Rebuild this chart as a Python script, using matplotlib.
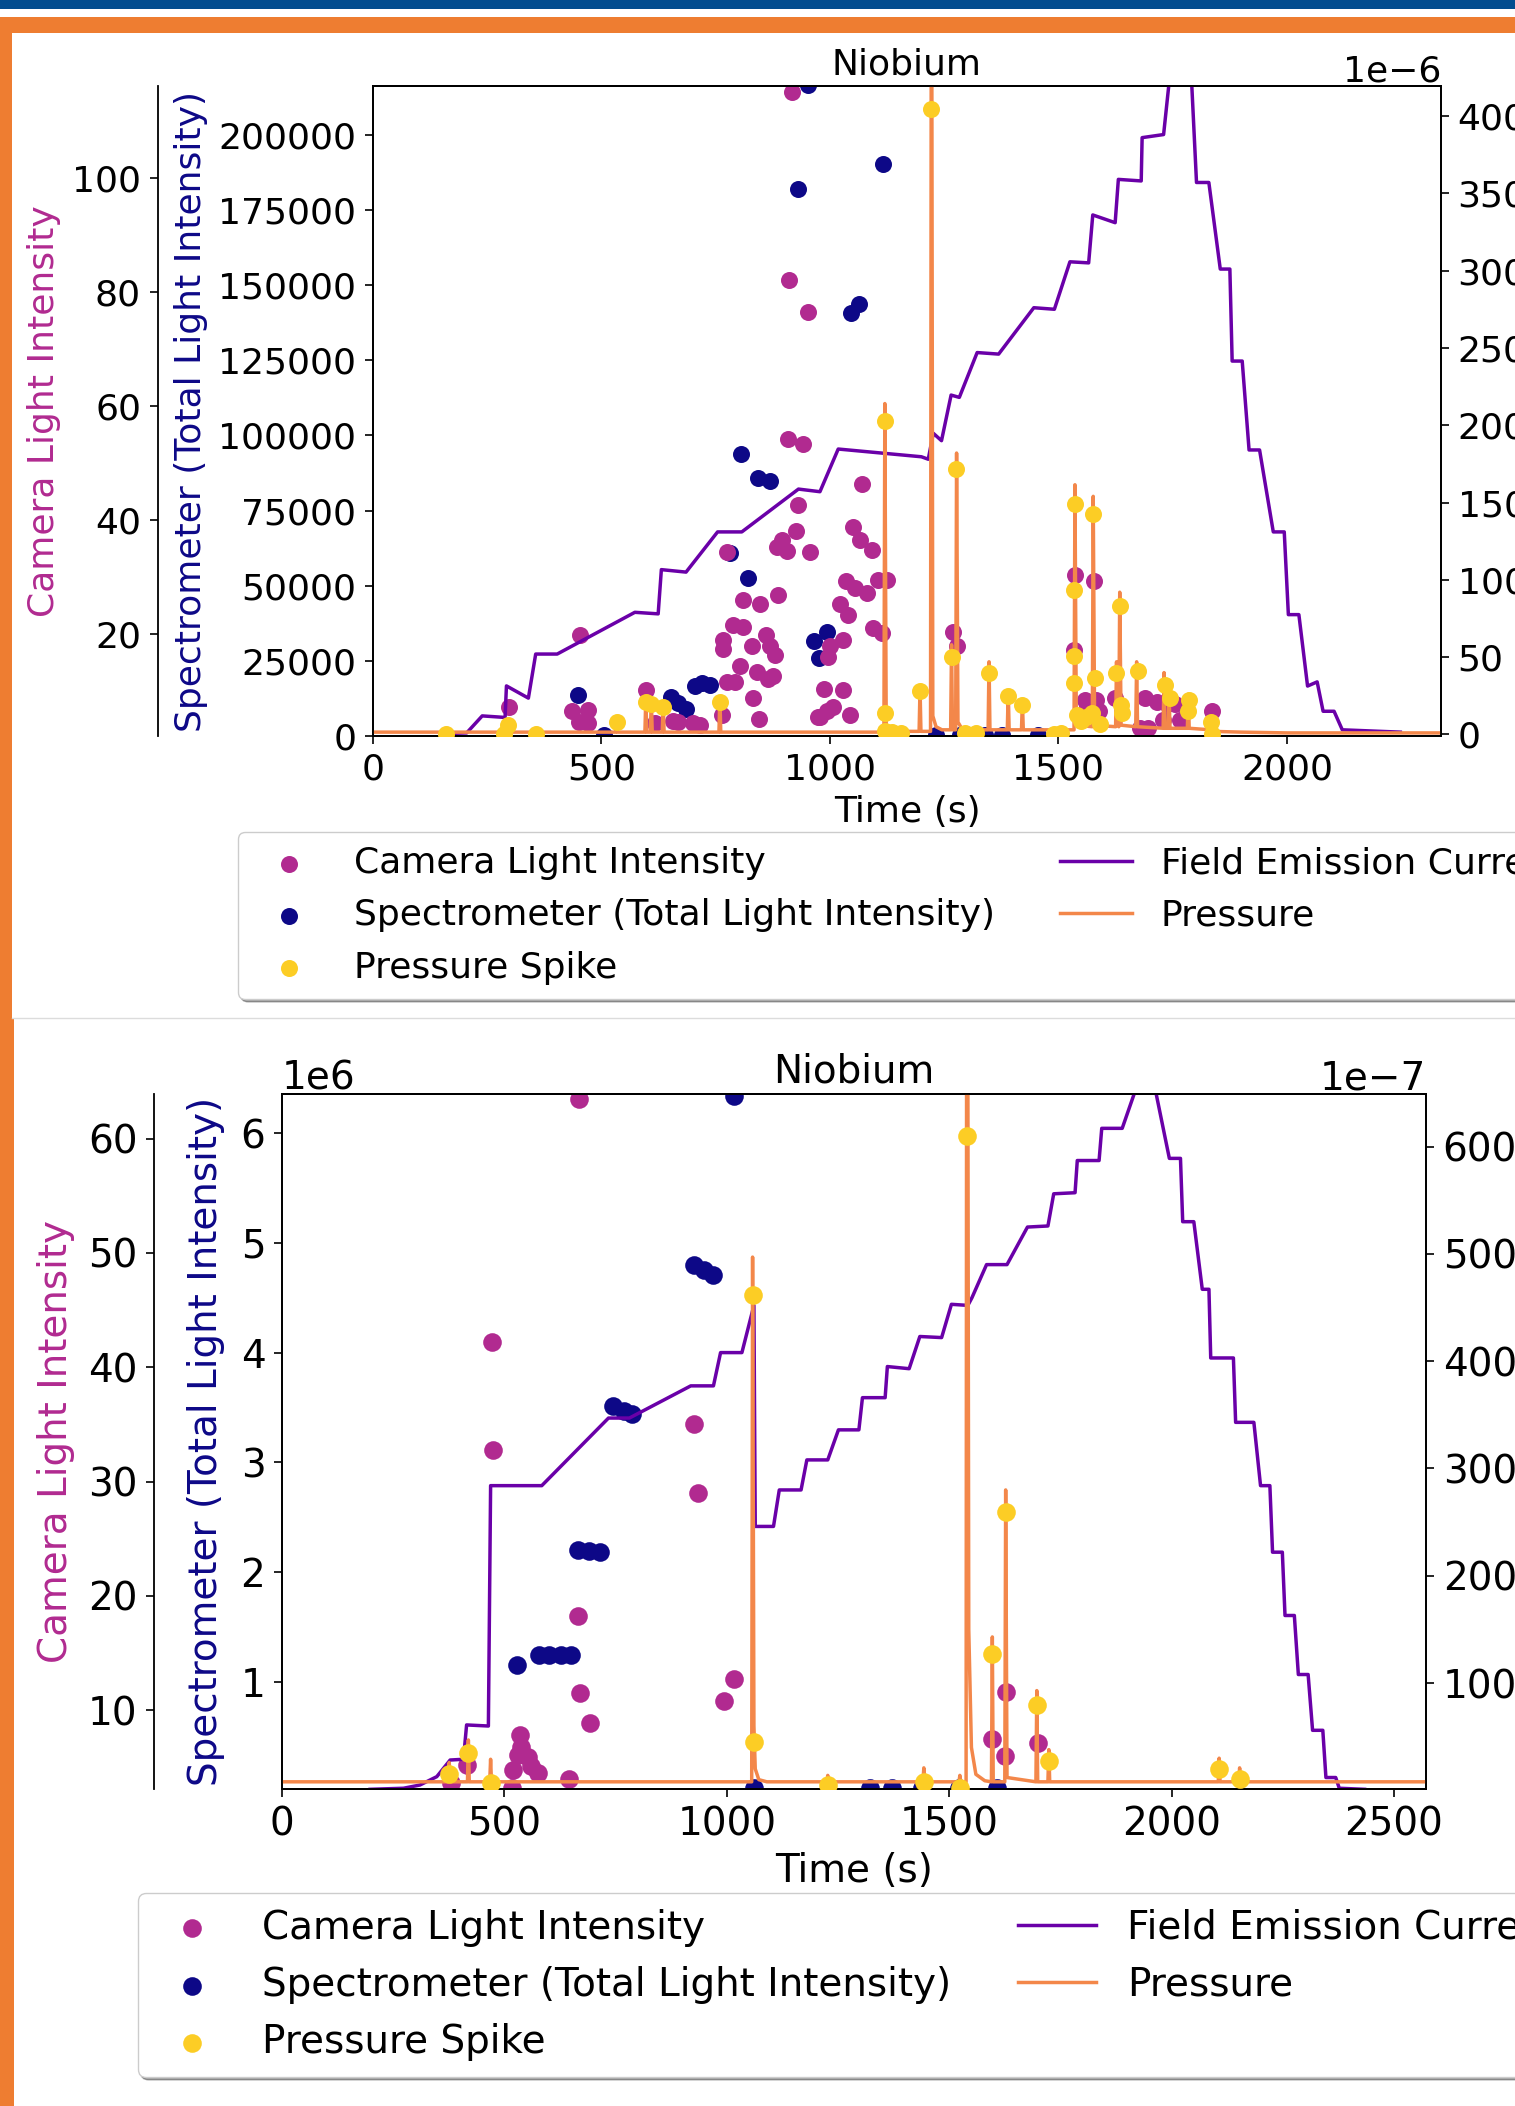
import numpy as np
import matplotlib
matplotlib.use('Agg')
from matplotlib import pyplot as plt
from matplotlib.patches import Rectangle
from matplotlib.lines import Line2D
from matplotlib.ticker import MultipleLocator

# ---------------- top run ----------------
# camera light intensity (t [s], intensity)
top_camera = [(297, 7.1), (435, 6.4), (453, 19.8), (471, 6.7), (451, 4.5), (470, 4.4), (597, 10.2),
              (617, 4.4), (657, 4.8), (668, 4.5), (700, 4.4), (715, 4.0), (763, 5.8), (765, 19.0),
              (765, 17.4), (774, 34.3), (774, 11.5), (788, 21.6), (792, 11.5), (803, 14.3), (809, 26.0),
              (809, 21.3), (829, 17.8), (832, 8.8), (840, 13.4), (845, 5.0), (847, 25.3), (861, 19.8),
              (865, 12.1), (869, 17.8), (876, 12.6), (880, 16.3), (885, 35.3), (887, 26.8), (894, 36.5),
              (905, 34.5), (909, 54.2), (911, 82), (916, 115), (926, 38.1), (929, 42.7), (942, 53.3),
              (951, 76.4), (956, 34.3), (974, 5.5), (978, 5.4), (986, 10.3), (993, 6.4), (995, 16.0),
              (1000, 17.9), (1007, 7.2), (1022, 25.3), (1029, 10.2), (1029, 19.0), (1036, 29.2),
              (1040, 23.3), (1044, 5.8), (1050, 38.7), (1055, 28.0), (1066, 36.5), (1069, 46.3),
              (1080, 27.2), (1091, 34.7), (1094, 21.0), (1106, 29.5), (1113, 20.2), (1125, 29.5),
              (1269, 20.4), (1278, 17.8), (1534, 17.2), (1536, 30.3), (1558, 8.4), (1560, 6.7),
              (1578, 29.2), (1583, 8.4), (1588, 6.4), (1624, 8.8), (1678, 3.5), (1689, 8.8), (1696, 3.5),
              (1715, 8.1), (1729, 4.9), (1737, 7.8), (1755, 7.8), (1766, 4.9), (1835, 6.4)]
# spectrometer total light intensity
top_spectro = [(449, 13500), (505, 300), (652, 13000), (667, 11000), (686, 9000), (705, 16600),
               (720, 17600), (737, 17000), (781, 61000), (805, 93700), (821, 52600), (843, 86000),
               (868, 85000), (931, 182000), (951, 216500), (964, 31700), (977, 25900), (993, 34600),
               (1047, 140900), (1064, 143600), (1115, 190400), (1233, 300), (1284, 300), (1339, 300),
               (1376, 300), (1456, 300)]
# detected pressure spikes (x1e-6)
top_spikes = [(160, 0.3), (286, 0.3), (295, 6.3), (357, 0.3), (533, 8), (597, 21), (609, 20), (635, 17.7),
              (759, 21), (1120, 203), (1120, 13.8), (1120, 2.5), (1135, 1.5), (1155, 1), (1197, 28),
              (1222, 404.5), (1266, 50), (1276, 171.6), (1296, 1), (1320, 1), (1347, 40), (1390, 24.8),
              (1421, 19), (1490, 0.5), (1505, 0.8), (1534, 93.4), (1534, 51), (1534, 33), (1536, 149),
              (1540, 12.5), (1550, 9), (1560, 11), (1573, 14), (1575, 142.6), (1580, 36.5), (1590, 6.7),
              (1626, 39.8), (1635, 83), (1636, 19), (1640, 14), (1674, 41), (1732, 32.3), (1743, 23.5),
              (1784, 15), (1786, 22), (1833, 8), (1835, 0.5)]
# field emission current (x1e-6)
top_fe = [(150, 0.5), (205, 1), (239, 12), (289, 11), (292, 31.4), (340, 23.5), (356, 52), (403, 52),
          (573, 79), (624, 78), (631, 106.6), (685, 105), (754, 131), (807, 131), (931, 158.7), (978, 157),
          (1018, 184.6), (1200, 179.6), (1215, 178), (1226, 194.8), (1244, 190), (1265, 219.5), (1283, 218),
          (1322, 247), (1369, 246), (1446, 276), (1491, 275), (1525, 305.7), (1566, 305), (1575, 336),
          (1624, 331), (1631, 359), (1681, 358), (1683, 386), (1730, 388), (1745, 430), (1790, 430),
          (1802, 357), (1829, 357), (1854, 301), (1875, 301), (1880, 241.5), (1902, 241.5), (1917, 184),
          (1940, 184), (1970, 131), (1994, 131), (2003, 77.5), (2026, 77.5), (2045, 31.3), (2066, 34),
          (2079, 15), (2103, 15), (2121, 3), (2248, 1.5)]
# pressure trace (x1e-6)
top_pressure = [(0, 1.5), (293, 1.5), (295, 8), (297, 1.5), (531, 1.5), (533, 9), (535, 1.5), (595, 1.5),
                (597, 24), (599, 1.5), (607, 1.5), (609, 23), (611, 1.5), (633, 1.5), (635, 20), (637, 1.5),
                (757, 1.5), (759, 24), (761, 1.5), (1118, 1.5), (1120, 214), (1123, 6), (1135, 2),
                (1195, 2), (1197, 30), (1199, 2), (1220, 2), (1222, 600), (1225, 12), (1232, 5), (1245, 3),
                (1264, 3), (1266, 58), (1268, 3), (1275, 3), (1277, 182), (1280, 8), (1290, 3), (1346, 3),
                (1348, 47), (1350, 3), (1388, 3), (1390, 28), (1392, 3), (1419, 3), (1421, 21), (1423, 3),
                (1534, 3), (1536, 161.5), (1539, 6), (1574, 5), (1576, 154), (1579, 6), (1625, 5),
                (1627, 47), (1629, 6), (1632, 5), (1634, 92), (1637, 6), (1669, 5), (1671, 47), (1673, 5),
                (1729, 4), (1731, 40), (1733, 4), (1740, 4), (1742, 26), (1744, 4), (1782, 4), (1784, 26),
                (1786, 4), (1833, 3), (1835, 10), (1837, 2), (1900, 1.5), (2000, 1), (2337, 1)]

# ---------------- bottom run ----------------
bot_camera = [(379, 3.6), (415, 5.2), (472, 42.2), (474, 32.8), (518, 3.2), (519, 4.8), (530, 6.1),
              (534, 7.8), (538, 6.8), (553, 5.9), (560, 5.1), (576, 4.5), (646, 4.0), (665, 18.2),
              (668, 63.5), (669, 11.5), (693, 8.9), (926, 35.0), (935, 29.0), (994, 10.8), (1016, 12.7),
              (1597, 7.5), (1625, 6.0), (1628, 11.6), (1699, 7.1)]
# spectrometer (x1e6)
bot_spectro = [(528, 1.149), (578, 1.24), (601, 1.24), (628, 1.24), (650, 1.24), (665, 2.20), (690, 2.19),
               (714, 2.18), (745, 3.51), (768, 3.47), (786, 3.44), (926, 4.80), (949, 4.75), (970, 4.71),
               (1017, 6.34), (1062, 0.03), (1322, 0.03), (1371, 0.03), (1439, 0.03), (1522, 0.03),
               (1608, 0.03)]
# pressure spikes (x1e-7)
bot_spikes = [(376, 15.3), (419, 35), (469, 6.6), (1058, 462), (1062, 45), (1227, 4.8), (1443, 8),
              (1524, 2), (1540, 609.6), (1597, 127), (1627, 259), (1697, 79.6), (1724, 27.6), (2107, 20),
              (2153, 11)]
# field emission current (x1e-7)
bot_fe = [(198, 1), (273, 2), (310, 5), (348, 12.8), (378, 28.3), (408, 29), (415, 61), (464, 60),
          (469, 284), (584, 284), (734, 347), (781, 347), (919, 377), (970, 377), (986, 408), (1034, 408),
          (1061, 452), (1064, 246), (1105, 246), (1118, 280), (1167, 280), (1180, 308), (1227, 308),
          (1251, 336), (1297, 336), (1305, 366), (1356, 366), (1361, 395), (1410, 393), (1434, 423),
          (1483, 422), (1505, 453), (1542, 452), (1551, 459), (1584, 490), (1630, 490), (1676, 525),
          (1722, 526), (1735, 556), (1783, 557), (1788, 587), (1837, 587), (1843, 617), (1889, 617),
          (1925, 660), (1960, 660), (1995, 589), (2020, 589), (2025, 530), (2050, 530), (2069, 467),
          (2084, 467), (2088, 403), (2139, 403), (2144, 343), (2185, 343), (2200, 284), (2221, 284),
          (2227, 222), (2249, 222), (2255, 163), (2276, 163), (2285, 108), (2307, 108), (2317, 56),
          (2340, 56), (2347, 12), (2369, 12), (2377, 2), (2434, 1)]
# pressure trace (x1e-7)
bot_pressure = [(0, 8), (374, 8), (376, 26), (378, 8), (417, 8), (419, 47), (421, 8), (467, 8), (469, 29),
                (471, 8), (1056, 8), (1058, 497), (1061, 60), (1064, 20), (1072, 10), (1090, 8), (1225, 8),
                (1227, 14), (1229, 8), (1441, 8), (1443, 21), (1445, 8), (1522, 8), (1524, 14), (1526, 8),
                (1538, 8), (1540, 1200), (1544, 150), (1550, 40), (1560, 15), (1580, 9), (1595, 8),
                (1597, 143), (1599, 8), (1625, 8), (1627, 280), (1630, 12), (1695, 8), (1697, 93),
                (1699, 8), (1722, 8), (1724, 38), (1726, 8), (2105, 8), (2107, 30), (2109, 8), (2151, 8),
                (2153, 21), (2155, 8), (2572, 8)]

labels = ['Camera Light Intensity', 'Spectrometer (Total Light Intensity)', 'Pressure Spike',
          'Field Emission Current', 'Pressure']
c_cam, c_spec, c_spike, c_fe, c_p = '#b12a90', '#0d0887', '#fccd25', '#6a00a8', '#f3874a'

W, H = 1515.0, 2106.0
fig = plt.figure(figsize=(15.15, 21.06), dpi=100)


def fr(x0, y0, x1, y1):
    # pixel box, origin top-left -> figure fraction rect
    return [x0 / W, 1 - y1 / H, (x1 - x0) / W, (y1 - y0) / H]


def panel(box, fs, s, cam_out, cam_lx, spec_lx, leg_xy, colsp, xlim, cam_lim, spec_lim, spec_scale,
          spec_step, cam_step, r_lim, r_exp, r_step, camera, spectro, spikes, fe, pressure):
    ax = fig.add_axes(fr(*box))
    axc = ax.twinx()
    axr = ax.twinx()

    t, v = np.array(spectro).T
    h_spec = ax.scatter(t, v * spec_scale, s=s, color=c_spec, linewidths=0)
    t, v = np.array(camera).T
    h_cam = axc.scatter(t, v, s=s, color=c_cam, linewidths=0)
    t, v = np.array(fe).T
    h_fe, = axr.plot(t, v * 10.0 ** r_exp, color=c_fe, lw=2.5)
    t, v = np.array(pressure).T
    h_p, = axr.plot(t, v * 10.0 ** r_exp, color=c_p, lw=2.5)
    t, v = np.array(spikes).T
    h_spk = axr.scatter(t, v * 10.0 ** r_exp, s=s, color=c_spike, linewidths=0, zorder=3)

    ax.set_xlim(*xlim)
    ax.set_ylim(spec_lim[0] * spec_scale, spec_lim[1] * spec_scale)
    axc.set_ylim(*cam_lim)
    axr.set_ylim(r_lim[0] * 10.0 ** r_exp, r_lim[1] * 10.0 ** r_exp)
    ax.xaxis.set_major_locator(MultipleLocator(500))
    ax.yaxis.set_major_locator(MultipleLocator(spec_step * spec_scale))
    axc.yaxis.set_major_locator(MultipleLocator(cam_step))
    axr.yaxis.set_major_locator(MultipleLocator(r_step * 10.0 ** r_exp))
    axr.ticklabel_format(axis='y', style='sci', scilimits=(r_exp, r_exp))

    # camera axis on an outward left spine
    axc.yaxis.tick_left()
    axc.yaxis.set_label_position('left')
    axc.spines['left'].set_position(('outward', cam_out))
    axc.spines['left'].set_visible(True)
    axc.spines['right'].set_visible(False)

    for a in (ax, axc, axr):
        for sp in a.spines.values():
            sp.set_linewidth(1.3)
        a.tick_params(labelsize=fs, length=6, width=1.2, pad=6)
        a.yaxis.get_offset_text().set_fontsize(fs)

    ax.set_title('Niobium', fontsize=fs, pad=8)
    ax.set_xlabel('Time (s)', fontsize=fs, labelpad=6)
    ax.set_ylabel('Spectrometer (Total Light Intensity)', fontsize=fs, color=c_spec)
    axc.set_ylabel('Camera Light Intensity', fontsize=fs, color=c_cam)
    ax.yaxis.set_label_coords(spec_lx, 0.5)
    axc.yaxis.set_label_coords(cam_lx, 0.5)

    fig.legend([h_cam, h_spec, h_spk, h_fe, h_p], labels, loc='upper left', bbox_to_anchor=leg_xy,
               ncol=2, fontsize=fs, shadow=True, borderaxespad=0, handlelength=2.0,
               columnspacing=colsp)


# page decoration of the screenshot
fig.add_artist(Rectangle((0, 1 - 9 / H), 1, 9 / H, transform=fig.transFigure, color='#024d8f', lw=0))
fig.add_artist(Rectangle((0, 1 - 33 / H), 1, 16 / H, transform=fig.transFigure, color='#ee7d31', lw=0))
fig.add_artist(Rectangle((0, 1 - 1018 / H), 12 / W, 1001 / H, transform=fig.transFigure, color='#ee7d31', lw=0))
fig.add_artist(Rectangle((0, 0), 14.5 / W, 1 - 1018 / H, transform=fig.transFigure, color='#ee7d31', lw=0))
fig.add_artist(Line2D([12 / W, 1], [1 - 1018 / H] * 2, transform=fig.transFigure, color='#dcdcdc', lw=1))

panel((373, 86, 1441, 736), 26, 150, 155, -0.292, -0.1545, (238 / W, 1 - 832 / H), 1.8,
      (0, 2337), (2.1, 116.1), (0, 216300), 1, 25000, 20, (-1, 419.4), -6, 50,
      top_camera, top_spectro, top_spikes, top_fe, top_pressure)

panel((282, 1094, 1426, 1789), 28, 180, 92, -0.181, -0.0495, (138 / W, 1 - 1893 / H), 1.72,
      (0, 2572), (3.1, 63.9), (0.02, 6.357), 1e6, 1, 10, (1.3, 649), -7, 100,
      bot_camera, bot_spectro, bot_spikes, bot_fe, bot_pressure)

fig.savefig('out.png', dpi=100)
